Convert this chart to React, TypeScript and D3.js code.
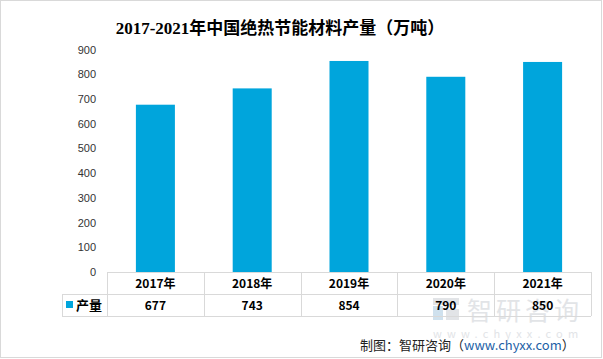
import React, { useEffect, useRef } from 'react';
import * as d3 from 'd3';

const years = ['2017年', '2018年', '2019年', '2020年', '2021年'];
const output = [677, 743, 854, 790, 850];
const yTicks = [0, 100, 200, 300, 400, 500, 600, 700, 800, 900];
const seriesName = '产量';
const title = '2017-2021年中国绝热节能材料产量（万吨）';

const W = 603;
const H = 359;
const barColor = '#00a5dc';
const gridColor = '#d9d9d9';
const sans = '"Noto Sans CJK SC", "Liberation Sans", sans-serif';

const App = () => {
  const ref = useRef<SVGSVGElement>(null);

  useEffect(() => {
    const svg = d3.select(ref.current);
    svg.selectAll('*').remove();

    // outer frame
    svg.append('rect')
      .attr('x', 0.5).attr('y', 0.5)
      .attr('width', W - 2).attr('height', H - 2)
      .attr('fill', '#fff')
      .attr('stroke', gridColor);

    const left = 107, right = 591;
    const x = d3.scaleBand<string>()
      .domain(years)
      .range([left, right])
      .paddingInner(0.597)
      .paddingOuter(0.2985);
    const step = x.step();

    const y = d3.scaleLinear().domain([0, 900]).range([272, 49.6]);

    // watermark (faint logo + name)
    const wm = svg.append('g').attr('fill', '#e2e4e7');
    wm.append('rect').attr('x', 433).attr('y', 306).attr('width', 10).attr('height', 14).attr('fill', '#cfe1ee');
    wm.append('rect').attr('x', 433).attr('y', 298).attr('width', 26).attr('height', 7);
    wm.append('rect').attr('x', 446).attr('y', 309).attr('width', 13).attr('height', 11);
    wm.append('text')
      .attr('x', 467).attr('y', 320)
      .attr('font-family', sans)
      .attr('font-size', 25)
      .attr('letter-spacing', 4)
      .text('智研咨询');
    wm.append('text')
      .attr('x', 433).attr('y', 338)
      .attr('font-family', sans)
      .attr('font-size', 11)
      .attr('letter-spacing', 5.2)
      .text('www.chyxx.com');

    // title
    svg.append('text')
      .attr('x', 280).attr('y', 34)
      .attr('text-anchor', 'middle')
      .attr('font-family', '"Liberation Serif", "DejaVu Serif", "Noto Sans CJK SC", serif')
      .attr('font-size', 17)
      .attr('font-weight', 'bold')
      .attr('fill', '#000')
      .text(title);

    // y axis labels
    const yAxis = d3.axisLeft(y).tickValues(yTicks).tickSize(0).tickPadding(0);
    const ya = svg.append('g').attr('transform', 'translate(96,0)').call(yAxis);
    ya.select('.domain').remove();
    ya.selectAll('text')
      .attr('font-family', '"Liberation Sans", sans-serif')
      .attr('font-size', 11)
      .attr('fill', '#333');

    // bars
    svg.append('g')
      .selectAll('rect')
      .data(output)
      .join('rect')
      .attr('x', (d, i) => x(years[i]) as number)
      .attr('y', d => y(d))
      .attr('width', x.bandwidth())
      .attr('height', d => y(0) - y(d))
      .attr('fill', barColor);

    // data table
    const rows = [272, 294, 316];
    const tbl = svg.append('g').attr('stroke', gridColor).attr('fill', 'none');
    tbl.append('line').attr('x1', left).attr('x2', right).attr('y1', rows[0] + 0.5).attr('y2', rows[0] + 0.5);
    tbl.append('line').attr('x1', 62).attr('x2', right).attr('y1', rows[1] + 0.5).attr('y2', rows[1] + 0.5);
    tbl.append('line').attr('x1', 62).attr('x2', right).attr('y1', rows[2] + 0.5).attr('y2', rows[2] + 0.5);
    tbl.append('line').attr('x1', 62.5).attr('x2', 62.5).attr('y1', rows[1]).attr('y2', rows[2]);
    d3.range(years.length + 1).forEach(i => {
      const xx = Math.round(left + i * step) + 0.5;
      tbl.append('line').attr('x1', xx).attr('x2', xx).attr('y1', rows[0]).attr('y2', rows[2]);
    });

    const txt = svg.append('g')
      .attr('font-family', sans)
      .attr('font-size', 12)
      .attr('font-weight', 'bold')
      .attr('fill', '#000')
      .attr('text-anchor', 'middle');
    years.forEach((yr, i) => {
      const cx = (x(yr) as number) + x.bandwidth() / 2;
      txt.append('text').attr('x', cx).attr('y', 288).text(yr);
      txt.append('text').attr('x', cx).attr('y', 310).text(String(output[i]));
    });

    // legend key
    svg.append('rect').attr('x', 66).attr('y', 301).attr('width', 7).attr('height', 7).attr('fill', barColor);
    svg.append('text')
      .attr('x', 76).attr('y', 310)
      .attr('font-family', sans)
      .attr('font-size', 13)
      .attr('font-weight', 'bold')
      .text(seriesName);

    // source
    const src = svg.append('text')
      .attr('x', 360).attr('y', 350)
      .attr('font-family', sans)
      .attr('font-size', 13)
      .attr('fill', '#222');
    src.append('tspan').text('制图：智研咨询（');
    src.append('tspan').attr('fill', '#1d5fa6').text('www.chyxx.com');
    src.append('tspan').text('）');
  }, []);

  return (
    <svg ref={ref} width={W} height={H} style={{ position: 'absolute', left: 0, top: 0 }} />
  );
};

export default App;
